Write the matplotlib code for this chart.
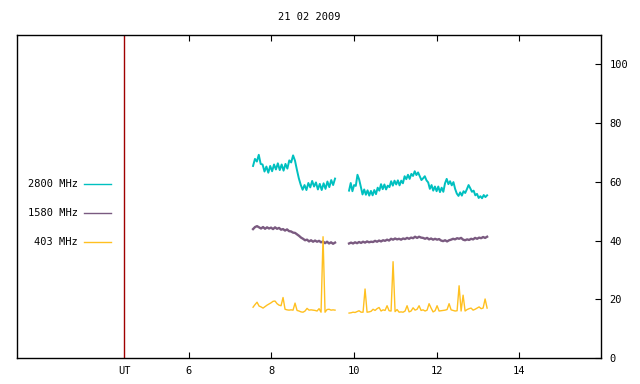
import numpy as np
import matplotlib
matplotlib.use("Agg")
import matplotlib.pyplot as plt
from matplotlib.lines import Line2D

# radio flux, 21 02 2009; two observing blocks (hours UT)
title = "21 02 2009"
seg_start = [7.557, 9.881]
seg_end = [9.542, 13.223]
ut_mark = 4.44

flux_2800_a = [65.4, 67.8, 66.9, 69.2, 66.1, 65.9, 63.5, 65.2, 63.1, 65.4, 63.6, 65.9,
               64.2, 66.3, 64.0, 65.9, 63.8, 66.1, 64.5, 67.3, 66.6, 69.0, 67.2, 64.1,
               61.2, 59.0, 57.3, 58.9, 57.2, 59.6, 58.1, 60.3, 58.4, 59.8, 57.4, 59.3,
               57.2, 59.5, 57.6, 60.1, 58.2, 60.6, 58.9, 61.1]
flux_2800_b = [57.0, 59.6, 56.8, 58.9, 58.6, 62.4, 60.8, 58.3, 55.7, 57.4, 55.6, 57.1,
               55.3, 56.9, 55.4, 57.2, 55.8, 58.0, 57.0, 59.2, 57.5, 59.1, 57.4, 58.7,
               58.2, 60.2, 58.7, 60.4, 59.1, 60.5, 58.8, 60.4, 59.5, 61.9, 60.9, 62.4,
               61.0, 62.7, 62.0, 63.6, 62.3, 63.2, 61.9, 60.6, 61.2, 61.9, 60.5, 59.8,
               57.6, 58.9, 57.0, 58.4, 56.8, 58.4, 56.5, 58.0, 56.6, 59.5, 61.0, 59.2,
               60.2, 58.8, 59.9, 57.6, 56.0, 55.2, 56.4, 55.3, 56.8, 56.2, 57.5, 58.9,
               57.8, 56.6, 57.0, 55.4, 55.9, 54.5, 55.1, 54.4, 55.5, 54.8, 55.4]

flux_1580_a = [43.9, 44.6, 44.9, 44.5, 44.1, 44.6, 44.0, 44.5, 44.1, 44.4, 43.9, 44.5,
               44.0, 44.3, 43.7, 43.9, 43.4, 43.8, 43.2, 43.1, 42.7, 42.6, 42.1, 41.6,
               41.0, 40.6, 40.1, 40.3, 39.7, 40.1, 39.6, 40.0, 39.6, 39.9, 39.4, 39.7,
               39.1, 39.6, 39.0, 39.4, 38.9, 39.3]
flux_1580_b = [39.0, 39.3, 39.0, 39.4, 39.1, 39.5, 39.2, 39.6, 39.3, 39.7, 39.4, 39.6,
               39.5, 39.9, 39.6, 40.0, 39.7, 40.1, 39.9, 40.3, 40.0, 40.6, 40.3, 40.7,
               40.4, 40.6, 40.3, 40.7, 40.5, 40.9, 40.6, 41.0, 40.8, 41.3, 40.9, 41.3,
               41.0, 40.9, 40.6, 40.9, 40.4, 40.7, 40.3, 40.6, 40.3, 40.5, 40.0, 39.8,
               40.1, 39.7, 40.1, 40.3, 40.6, 40.4, 40.8, 40.6, 40.9, 40.3, 40.1, 40.4,
               40.2, 40.6, 40.4, 40.9, 40.6, 41.0, 40.8, 41.2, 40.9, 41.3]

flux_403_a = [17.3, 18.2, 19.0, 17.7, 17.4, 17.0, 17.5, 18.0, 18.4, 18.8, 19.3, 19.4,
              18.5, 18.0, 17.8, 20.6, 16.6, 16.4, 16.3, 16.4, 16.3, 18.7, 16.2, 16.0,
              15.7, 15.6, 16.0, 16.9, 16.3, 16.4, 16.3, 16.2, 16.0, 16.8, 15.6, 41.3,
              15.6, 16.5, 16.6, 16.3, 16.4, 16.3]
flux_403_b = [15.3, 15.4, 15.6, 15.5, 15.8, 16.1, 15.6, 15.6, 23.5, 15.6, 15.7, 15.9,
              16.6, 16.2, 16.8, 17.2, 16.0, 16.4, 16.2, 17.8, 16.1, 16.0, 32.8, 15.8,
              16.5, 15.6, 15.7, 15.6, 16.0, 17.8, 15.7, 16.0, 17.1, 16.3, 16.6, 17.8,
              16.2, 16.4, 16.0, 16.3, 18.5, 17.0, 15.7, 16.1, 17.8, 16.0, 16.1, 16.2,
              16.3, 16.5, 18.5, 16.4, 16.2, 16.0, 16.1, 24.6, 16.0, 21.4, 16.0, 16.5,
              16.8, 17.0, 16.3, 16.6, 17.0, 17.4, 16.8, 17.0, 20.1, 17.0]

# name, colour, line width of trace, segments
series = [
    ("2800 MHz", "#00c0c0", 1.4, [flux_2800_a, flux_2800_b]),
    ("1580 MHz", "#7a5a80", 1.7, [flux_1580_a, flux_1580_b]),
    ("403 MHz", "#ffc020", 1.0, [flux_403_a, flux_403_b]),
]

xticks = [ut_mark, 6, 8, 10, 12, 14]
xticklabels = ["UT", "6", "8", "10", "12", "14"]
yticks = [0, 20, 40, 60, 80, 100]

plt.rcParams['font.family'] = ['DejaVu Sans Mono']
plt.rcParams['font.size'] = 7.5

fig = plt.figure(figsize=(6.4, 3.84), dpi=100)
ax = fig.add_axes([17 / 640, 26 / 384, 584 / 640, 323 / 384])

for name, color, lw, segs in series:
    for s0, s1, vals in zip(seg_start, seg_end, segs):
        t = np.linspace(s0, s1, len(vals))
        ax.plot(t, vals, color=color, lw=lw)

ax.axvline(ut_mark, color="#a00000", lw=1)

ax.set_xlim(1.843, 15.98)
ax.set_ylim(0, 110)

ax.set_xticks(xticks)
ax.set_xticklabels(xticklabels)
ax.set_yticks(yticks)
ax.yaxis.tick_right()
ax.tick_params(axis="x", direction="in", length=4, width=0.8, top=True, pad=6)
ax.tick_params(axis="y", direction="in", length=4, width=0.8, left=False, right=True, pad=6)
ax.xaxis.get_major_ticks()[0].tick1line.set_visible(False)
ax.xaxis.get_major_ticks()[0].tick2line.set_visible(False)
for sp in ax.spines.values():
    sp.set_linewidth(1)

ax.set_title(title, fontsize=7.5, pad=11)

# legend block on the left
for i, (name, color, _, _) in enumerate(series):
    y = 1 - (184 + 29 * i) / 384
    fig.text(78 / 640, y, name, ha="right", va="center")
    fig.add_artist(Line2D([84 / 640, 111 / 640], [y, y], color=color, lw=1,
                          transform=fig.transFigure))

fig.savefig("out.png", dpi=100)
